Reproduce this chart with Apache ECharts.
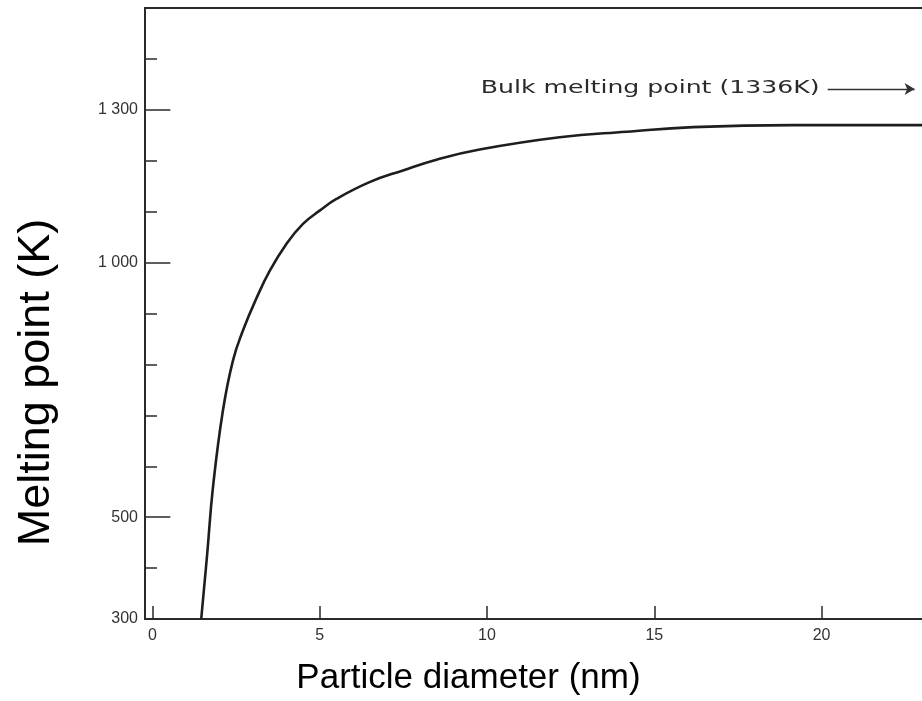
<!DOCTYPE html>
<html>
<head>
<meta charset="utf-8">
<script src="https://cdn.jsdelivr.net/npm/echarts@6/dist/echarts.min.js"></script>
<style>html,body{margin:0;padding:0;background:#fff}#c{width:922px;height:701px}</style>
</head>
<body>
<div id="c"></div>
<script>
const diameters = [1.46, 1.64, 1.81, 2.11, 2.41, 2.71, 3.09, 3.51, 4.01, 4.50, 5.00, 5.50, 6.49, 7.49, 8.49, 9.78, 12.17, 14.17, 16.16, 19.14, 23.0];
const meltingPoints = [300, 429, 558, 710, 808, 867, 927, 984, 1037, 1076, 1102, 1125, 1158, 1181, 1202, 1222, 1246, 1257, 1266, 1270, 1270];
const xTickValues = [0, 5, 10, 15, 20];
const yLabelValues = [300, 500, 1000, 1300];
const yMajorTicks = [500, 1000, 1300];
const bulkLabel = 'Bulk melting point (1336K)';
const bulkArrow = [[20.18, 1341], [22.78, 1341]];

const chart = echarts.init(document.getElementById('c'));
const axisColor = '#2a2a2a';
const labelColor = '#333';
chart.setOption({
  animation: false,
  backgroundColor: '#fff',
  grid: { left: 145, right: 0, top: 8, bottom: 82, containLabel: false, outerBoundsMode: 'none' },
  xAxis: [{
    type: 'value', min: -0.22, max: 23.0,
    name: 'Particle diameter (nm)', nameLocation: 'middle', nameGap: 42,
    nameTextStyle: { fontFamily: 'Liberation Sans', fontSize: 35, color: '#000', padding: [0, 130, 0, 0] },
    axisLine: { show: true, onZero: false, lineStyle: { color: axisColor, width: 2 } },
    axisTick: { show: true, inside: true, length: 13, customValues: xTickValues, lineStyle: { color: axisColor, width: 1.5 } },
    axisLabel: { customValues: xTickValues, margin: 9, fontFamily: 'Liberation Sans', fontSize: 16, color: labelColor },
    splitLine: { show: false }
  }, {
    type: 'value', position: 'top', min: -0.22, max: 23.0,
    axisLine: { show: true, lineStyle: { color: axisColor, width: 2 } },
    axisTick: { show: false }, axisLabel: { show: false }, splitLine: { show: false }
  }],
  yAxis: [{
    type: 'value', min: 300, max: 1500, interval: 100,
    name: 'Melting point (K)', nameLocation: 'middle', nameGap: 86, nameRotate: 90,
    nameTextStyle: { fontFamily: 'Liberation Sans', fontSize: 45, color: '#000', padding: [0, 138, 0, 0] },
    axisLine: { show: true, onZero: false, lineStyle: { color: axisColor, width: 2 } },
    axisTick: { show: true, inside: true, length: 12, lineStyle: { color: axisColor, width: 1.5 } },
    axisLabel: {
      customValues: yLabelValues, margin: 7, fontFamily: 'Liberation Sans', fontSize: 16, color: labelColor,
      formatter: v => v >= 1000 ? String(v).replace(/^(\d)(\d{3})$/, '$1 $2') : String(v)
    },
    splitLine: { show: false }
  }, {
    type: 'value', position: 'left', min: 300, max: 1500,
    axisLine: { show: false },
    axisTick: { show: true, inside: true, length: 18, customValues: yMajorTicks, lineStyle: { color: axisColor, width: 1.5 } },
    axisLabel: { show: false }, splitLine: { show: false }
  }],
  series: [{
    type: 'line', xAxisIndex: 0, yAxisIndex: 0,
    data: diameters.map((d, i) => [d, meltingPoints[i]]),
    smooth: 0.45, showSymbol: false, symbol: 'none',
    lineStyle: { color: '#1e1e1e', width: 2.6 },
    markLine: {
      silent: true, symbol: ['none', 'arrow'], symbolSize: [9, 10],
      lineStyle: { color: '#333', width: 1.3, type: 'solid' },
      label: { show: false },
      data: [[{ coord: bulkArrow[0] }, { coord: bulkArrow[1] }]]
    }
  }]
});
const p = chart.convertToPixel({ xAxisIndex: 0, yAxisIndex: 0 }, bulkArrow[0]);
chart.setOption({
  graphic: [{
    type: 'text', x: p[0] - 8, y: p[1], originX: 0, originY: 0, scaleX: 1.48, silent: true,
    style: { text: bulkLabel, fontFamily: 'DejaVu Sans', fontSize: 17, fill: '#2a2a2a', align: 'right', verticalAlign: 'middle' }
  }]
});
</script>
</body>
</html>
